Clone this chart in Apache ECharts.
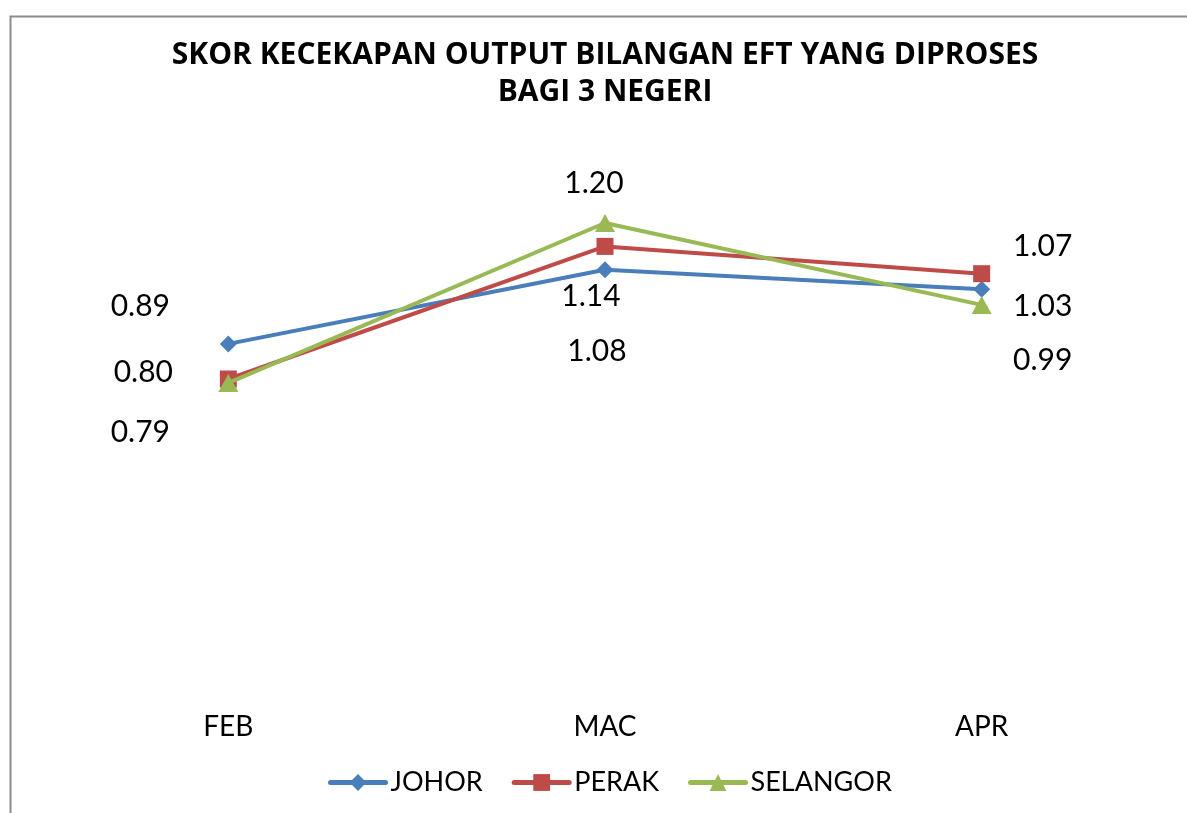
<!DOCTYPE html>
<html>
<head>
<meta charset="utf-8">
<script src="https://cdn.jsdelivr.net/npm/echarts@6/dist/echarts.min.js"></script>
<style>html,body{margin:0;padding:0;background:#fff}#c{width:1187px;height:813px}</style>
</head>
<body>
<div id="c"></div>
<script>
const categories = ['FEB', 'MAC', 'APR'];
const seriesNames = ['JOHOR', 'PERAK', 'SELANGOR'];
const johor = [0.89, 1.08, 1.03];
const perak = [0.80, 1.14, 1.07];
const selangor = [0.79, 1.20, 0.99];
const titleText = 'SKOR KECEKAPAN OUTPUT BILANGAN EFT YANG DIPROSES\nBAGI 3 NEGERI';

const colors = ['#4A7EBB', '#BE4B48', '#98B954'];
const symbols = ['diamond', 'rect', 'triangle'];
const symbolSizes = [[17, 17], [17, 17], [20, 18]];
// label offsets (pixels) for each point, as placed in the reference
const labelOffsets = [
  [[-88, -38], [-8, 82], [61, 17]],
  [[-85, -7], [-14, 50], [61, -27]],
  [[-88, 49], [-11, -40], [61, 55]]
];
const values = [johor, perak, selangor];
const FONT = 'Lato, "DejaVu Sans", sans-serif';

const chart = echarts.init(document.getElementById('c'));
chart.setOption({
  animation: false,
  backgroundColor: '#fff',
  title: {
    text: titleText,
    left: 605,
    top: 37,
    padding: 0,
    textAlign: 'center',
    textStyle: { fontFamily: '"Open Sans", Lato, sans-serif', fontWeight: 'bold', fontSize: 30, lineHeight: 37, color: '#000' }
  },
  graphic: [{
    type: 'rect', left: 8, top: 14, silent: true,
    shape: { width: 1200, height: 820 },
    style: { fill: 'none', stroke: '#8C8C8C', lineWidth: 2 }
  }],
  legend: {
    bottom: 12,
    left: 323,
    itemWidth: 55,
    itemHeight: 21,
    itemGap: 29,
    lineStyle: { width: 5, cap: 'round' },
    textStyle: { fontFamily: FONT, fontSize: 27, color: '#000' },
    data: seriesNames
  },
  grid: { left: 40, right: 17, top: 145, bottom: 122, containLabel: false },
  xAxis: {
    type: 'category',
    data: categories,
    boundaryGap: true,
    axisLine: { show: false },
    axisTick: { show: false },
    axisLabel: { margin: 22, fontFamily: FONT, fontSize: 28, color: '#000' }
  },
  yAxis: {
    type: 'value', min: 0, max: 1.4, interval: 0.2,
    show: false,
    splitLine: { show: false }
  },
  series: seriesNames.map((name, i) => ({
    name: name,
    type: 'line',
    symbol: symbols[i],
    symbolSize: symbolSizes[i],
    lineStyle: { width: 4, color: colors[i] },
    itemStyle: { color: colors[i] },
    z: 2 + i,
    data: values[i].map((v, j) => ({
      value: v,
      label: {
        show: true,
        position: 'inside',
        offset: labelOffsets[i][j],
        formatter: (p) => p.value.toFixed(2),
        fontFamily: FONT, fontSize: 30, color: '#000'
      }
    }))
  }))
});
</script>
</body>
</html>
